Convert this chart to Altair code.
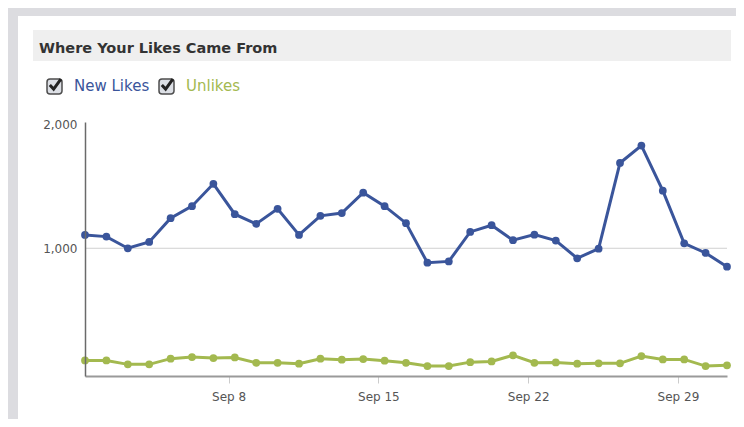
import altair as alt
import pandas as pd

TITLE = "Where Your Likes Came From"
SERIES = ["New Likes", "Unlikes"]
COLORS = ["#3a559b", "#a3b94f"]

dates = [d.strftime("%Y-%m-%d %H:%M") for d in pd.date_range("2012-09-01 07:00", periods=31, freq="D")]

new_likes = [1108, 1094, 1000, 1051, 1243, 1340, 1521, 1275, 1197, 1319, 1108, 1262, 1284, 1449, 1340,
             1203, 883, 894, 1132, 1186, 1065, 1110, 1062, 919, 997, 1689, 1830, 1465, 1040, 962, 851]
unlikes = [94, 94, 62, 62, 108, 121, 113, 118, 75, 75, 67, 108, 100, 105, 92,
           75, 48, 48, 80, 86, 135, 75, 78, 67, 70, 70, 129, 102, 102, 48, 54]

y_ticks = [1000, 2000]
x_tick_days = [8, 15, 22, 29]
grid_values = [1000]
Y_DOMAIN = [-32, 2020]

df = pd.DataFrame({
    "date": dates * 2,
    "value": new_likes + unlikes,
    "series": [SERIES[0]] * len(dates) + [SERIES[1]] * len(dates),
})

x_enc = alt.X(
    "date:T",
    scale=alt.Scale(
        domain=[alt.DateTime(year=2012, month=9, date=1, hours=7),
                alt.DateTime(year=2012, month=10, date=1, hours=7)],
        nice=False,
    ),
    axis=alt.Axis(
        values=[alt.DateTime(year=2012, month=9, date=d) for d in x_tick_days],
        format="%b %-d", title=None, grid=False, zindex=1,
        labelFont="DejaVu Sans", labelFontSize=12, labelColor="#555555",
        tickColor="#cccccc", tickSize=7, labelPadding=8,
        domainColor="#9a9a9a", domainWidth=2,
    ),
)
y_scale = alt.Scale(domain=Y_DOMAIN, nice=False, zero=False)
y_axis = alt.Axis(
    values=y_ticks, format=",d", title=None, grid=False, zindex=1,
    ticks=False, tickSize=0, labelPadding=8,
    labelFont="DejaVu Sans", labelFontSize=12, labelColor="#555555",
    domainColor="#6a6a6a", domainWidth=1.5,
)

panel = alt.Chart(pd.DataFrame({"a": [0]})).mark_rect(color="white").encode(
    x=alt.value(-67), x2=alt.value(651), y=alt.value(-106), y2=alt.value(297))
title_bar = alt.Chart(pd.DataFrame({"a": [0]})).mark_rect(color="#efefef").encode(
    x=alt.value(-52), x2=alt.value(646), y=alt.value(-92), y2=alt.value(-61))
title_text = alt.Chart(pd.DataFrame({"t": [TITLE]})).mark_text(
    align="left", baseline="alphabetic", font="DejaVu Sans", fontWeight="bold",
    fontSize=14.5, color="#333333").encode(text="t:N", x=alt.value(-46), y=alt.value(-69))

legend_layers = []
for i, (lab, col, x0) in enumerate(zip(SERIES, COLORS, [-38, 74])):
    box = alt.Chart(pd.DataFrame({"a": [0]})).mark_rect(
        fill="#dcdfe5", stroke="#4d4d4d", strokeWidth=1.5, cornerRadius=3).encode(
        x=alt.value(x0), x2=alt.value(x0 + 15), y=alt.value(-43), y2=alt.value(-28))
    check = alt.Chart(pd.DataFrame({"a": [0]})).mark_point(
        shape="M-0.75,0 L-0.2,0.6 L0.85,-0.85", filled=False, stroke="#222222",
        strokeWidth=3, size=190, opacity=1).encode(
        x=alt.value(x0 + 8), y=alt.value(-37))
    txt = alt.Chart(pd.DataFrame({"t": [lab]})).mark_text(
        align="left", baseline="alphabetic", font="DejaVu Sans", fontSize=15,
        color=col).encode(text="t:N", x=alt.value(x0 + 27), y=alt.value(-31))
    legend_layers += [box, check, txt]

grid = alt.Chart(pd.DataFrame({"value": grid_values})).mark_rule(
    color="#d0d0d0", strokeWidth=1).encode(
    y=alt.Y("value:Q", scale=y_scale, axis=y_axis))

lines = alt.Chart(df).mark_line(
    strokeWidth=3, point=alt.OverlayMarkDef(filled=True, size=60, opacity=1)).encode(
    x=x_enc, y=alt.Y("value:Q", scale=y_scale, axis=y_axis),
    color=alt.Color("series:N", scale=alt.Scale(domain=SERIES, range=COLORS), legend=None),
)

chart = alt.layer(panel, title_bar, title_text, *legend_layers, grid, lines).properties(
    width=642, height=254,
    autosize=alt.AutoSizeParams(type="none"),
    padding={"left": 77, "top": 114, "right": 9, "bottom": 43},
    background="#dcdce0",
).configure_view(stroke=None)

chart.save("out.html", embed_options={"renderer": "svg", "actions": False})
